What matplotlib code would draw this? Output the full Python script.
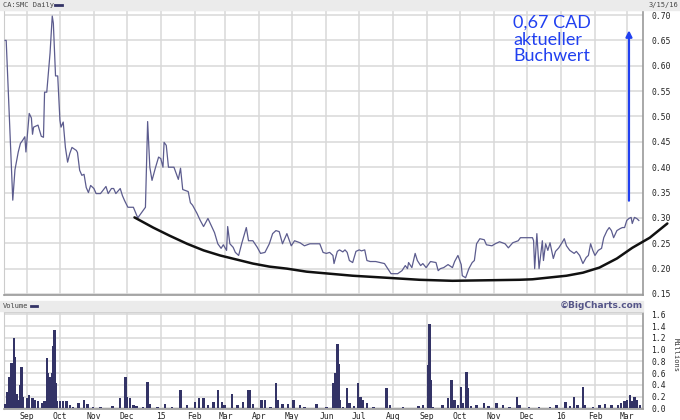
import pandas as pd
import matplotlib
matplotlib.use("Agg")
import matplotlib.pyplot as plt
import matplotlib.dates as mdates
from matplotlib.patches import Rectangle
from matplotlib.lines import Line2D

# daily close, CA:SMC
price_dates = [
    "2014-08-12", "2014-08-13", "2014-08-18", "2014-08-19", "2014-08-21", "2014-08-24", "2014-08-26",
    "2014-08-28", "2014-08-30", "2014-08-31", "2014-09-03", "2014-09-05", "2014-09-06", "2014-09-07",
    "2014-09-11", "2014-09-14", "2014-09-16", "2014-09-17", "2014-09-19", "2014-09-22", "2014-09-24",
    "2014-09-25", "2014-09-27", "2014-09-29", "2014-10-01", "2014-10-02", "2014-10-04", "2014-10-06",
    "2014-10-08", "2014-10-10", "2014-10-12", "2014-10-16", "2014-10-17", "2014-10-19", "2014-10-21",
    "2014-10-23", "2014-10-25", "2014-10-27", "2014-10-29", "2014-11-01", "2014-11-03", "2014-11-07",
    "2014-11-12", "2014-11-14", "2014-11-17", "2014-11-19", "2014-11-21", "2014-11-25", "2014-11-27",
    "2014-11-29", "2014-12-02", "2014-12-07", "2014-12-11", "2014-12-14", "2014-12-18", "2014-12-20",
    "2014-12-22", "2014-12-24", "2014-12-27", "2014-12-30", "2015-01-01", "2015-01-03", "2015-01-04",
    "2015-01-06", "2015-01-08", "2015-01-13", "2015-01-17", "2015-01-19", "2015-01-21", "2015-01-26",
    "2015-01-28", "2015-01-30", "2015-02-03", "2015-02-06", "2015-02-09", "2015-02-13", "2015-02-16",
    "2015-02-19", "2015-02-22", "2015-02-25", "2015-02-27", "2015-03-02", "2015-03-03", "2015-03-05",
    "2015-03-08", "2015-03-10", "2015-03-13", "2015-03-16", "2015-03-20", "2015-03-22", "2015-03-26",
    "2015-03-30", "2015-04-02", "2015-04-06", "2015-04-10", "2015-04-13", "2015-04-16", "2015-04-19",
    "2015-04-22", "2015-04-26", "2015-04-30", "2015-05-03", "2015-05-08", "2015-05-12", "2015-05-17",
    "2015-05-24", "2015-05-26", "2015-05-29", "2015-06-01", "2015-06-04", "2015-06-07", "2015-06-08",
    "2015-06-11", "2015-06-13", "2015-06-16", "2015-06-18", "2015-06-20", "2015-06-22", "2015-06-25",
    "2015-06-28", "2015-07-01", "2015-07-03", "2015-07-06", "2015-07-08", "2015-07-11", "2015-07-16",
    "2015-07-20", "2015-07-24", "2015-07-27", "2015-07-30", "2015-08-05", "2015-08-09", "2015-08-12",
    "2015-08-14", "2015-08-15", "2015-08-18", "2015-08-21", "2015-08-23", "2015-08-26", "2015-08-28",
    "2015-08-31", "2015-09-04", "2015-09-09", "2015-09-11", "2015-09-13", "2015-09-16", "2015-09-20",
    "2015-09-24", "2015-09-26", "2015-09-29", "2015-10-02", "2015-10-03", "2015-10-06", "2015-10-09",
    "2015-10-12", "2015-10-14", "2015-10-16", "2015-10-19", "2015-10-23", "2015-10-25", "2015-10-30",
    "2015-11-02", "2015-11-06", "2015-11-11", "2015-11-14", "2015-11-18", "2015-11-23", "2015-11-25",
    "2015-12-06", "2015-12-07", "2015-12-08", "2015-12-10", "2015-12-12", "2015-12-15", "2015-12-16",
    "2015-12-18", "2015-12-20", "2015-12-22", "2015-12-25", "2015-12-27", "2015-12-30", "2016-01-03",
    "2016-01-04", "2016-01-06", "2016-01-09", "2016-01-13", "2016-01-15", "2016-01-18", "2016-01-21",
    "2016-01-24", "2016-01-26", "2016-01-28", "2016-01-30", "2016-02-01", "2016-02-04", "2016-02-07",
    "2016-02-09", "2016-02-12", "2016-02-14", "2016-02-16", "2016-02-18", "2016-02-21", "2016-02-24",
    "2016-02-26", "2016-02-28", "2016-03-01", "2016-03-03", "2016-03-05", "2016-03-06", "2016-03-08",
    "2016-03-10", "2016-03-12",
]
price_vals = [
    0.65, 0.65, 0.39, 0.335, 0.395, 0.43, 0.447,
    0.453, 0.46, 0.43, 0.506, 0.497, 0.465, 0.479,
    0.483, 0.461, 0.459, 0.548, 0.548, 0.625, 0.698,
    0.684, 0.58, 0.58, 0.493, 0.479, 0.489, 0.439,
    0.41, 0.427, 0.439, 0.433, 0.429, 0.394, 0.384,
    0.386, 0.36, 0.35, 0.364, 0.358, 0.348, 0.348,
    0.362, 0.348, 0.358, 0.358, 0.348, 0.358, 0.344,
    0.334, 0.321, 0.321, 0.30, 0.309, 0.321, 0.49,
    0.40, 0.374, 0.398, 0.42, 0.417, 0.40, 0.449,
    0.443, 0.40, 0.40, 0.376, 0.398, 0.356, 0.352,
    0.33, 0.325, 0.309, 0.295, 0.283, 0.299, 0.285,
    0.271, 0.249, 0.24, 0.247, 0.236, 0.283, 0.249,
    0.242, 0.232, 0.226, 0.251, 0.281, 0.255, 0.255,
    0.242, 0.23, 0.232, 0.249, 0.269, 0.275, 0.273,
    0.249, 0.269, 0.245, 0.255, 0.251, 0.245, 0.249,
    0.249, 0.249, 0.232, 0.23, 0.232, 0.226, 0.21,
    0.234, 0.237, 0.233, 0.237, 0.232, 0.216, 0.212,
    0.234, 0.237, 0.235, 0.237, 0.216, 0.214, 0.214,
    0.212, 0.21, 0.20, 0.19, 0.19, 0.196, 0.206,
    0.20, 0.212, 0.202, 0.23, 0.216, 0.206, 0.21,
    0.202, 0.214, 0.212, 0.196, 0.20, 0.202, 0.208,
    0.202, 0.214, 0.226, 0.208, 0.186, 0.182, 0.20,
    0.212, 0.216, 0.249, 0.259, 0.257, 0.247, 0.245,
    0.249, 0.253, 0.249, 0.241, 0.251, 0.255, 0.261,
    0.261, 0.255, 0.20, 0.269, 0.20, 0.255, 0.216,
    0.249, 0.236, 0.251, 0.22, 0.234, 0.241, 0.255,
    0.259, 0.245, 0.236, 0.23, 0.234, 0.226, 0.21,
    0.222, 0.226, 0.249, 0.236, 0.226, 0.236, 0.24,
    0.261, 0.275, 0.281, 0.275, 0.261, 0.275, 0.279,
    0.281, 0.281, 0.295, 0.299, 0.301, 0.289, 0.301,
    0.299, 0.295,
]

# volume in millions
vol_dates = [
    "2014-08-12", "2014-08-14", "2014-08-16", "2014-08-17", "2014-08-18", "2014-08-19", "2014-08-20",
    "2014-08-21", "2014-08-22", "2014-08-23", "2014-08-24", "2014-08-26", "2014-08-27", "2014-08-28",
    "2014-09-01", "2014-09-03", "2014-09-06", "2014-09-08", "2014-09-11", "2014-09-15", "2014-09-17",
    "2014-09-19", "2014-09-20", "2014-09-22", "2014-09-24", "2014-09-25", "2014-09-26", "2014-09-27",
    "2014-09-28", "2014-10-01", "2014-10-04", "2014-10-07", "2014-10-10", "2014-10-13", "2014-10-18",
    "2014-10-23", "2014-10-26", "2014-10-31", "2014-11-07", "2014-11-18", "2014-11-25", "2014-11-30",
    "2014-12-01", "2014-12-04", "2014-12-07", "2014-12-10", "2014-12-16", "2014-12-20", "2014-12-22",
    "2014-12-29", "2015-01-05", "2015-01-11", "2015-01-19", "2015-01-25", "2015-02-01", "2015-02-05",
    "2015-02-09", "2015-02-13", "2015-02-18", "2015-02-22", "2015-02-26", "2015-02-28", "2015-03-07",
    "2015-03-12", "2015-03-17", "2015-03-22", "2015-03-23", "2015-03-26", "2015-04-03", "2015-04-06",
    "2015-04-11", "2015-04-16", "2015-04-18", "2015-04-22", "2015-04-27", "2015-05-02", "2015-05-08",
    "2015-05-12", "2015-05-23", "2015-06-01", "2015-06-07", "2015-06-09", "2015-06-11", "2015-06-12",
    "2015-06-13", "2015-06-16", "2015-06-20", "2015-06-22", "2015-06-26", "2015-06-30", "2015-07-02",
    "2015-07-04", "2015-07-08", "2015-07-14", "2015-07-26", "2015-07-29", "2015-08-10", "2015-08-24",
    "2015-08-28", "2015-09-02", "2015-09-03", "2015-09-04", "2015-09-06", "2015-09-15", "2015-09-20",
    "2015-09-23", "2015-09-26", "2015-09-29", "2015-10-02", "2015-10-03", "2015-10-07", "2015-10-08",
    "2015-10-11", "2015-10-16", "2015-10-23", "2015-10-27", "2015-11-03", "2015-11-09", "2015-11-15",
    "2015-11-22", "2015-11-24", "2015-12-03", "2015-12-12", "2015-12-22", "2015-12-28", "2016-01-05",
    "2016-01-09", "2016-01-13", "2016-01-16", "2016-01-21", "2016-01-23", "2016-01-30", "2016-02-05",
    "2016-02-10", "2016-02-16", "2016-02-22", "2016-02-25", "2016-02-28", "2016-03-01", "2016-03-04",
    "2016-03-06", "2016-03-08", "2016-03-10", "2016-03-13",
]
vol_vals = [
    0.08, 0.28, 0.54, 0.19, 0.78, 0.17, 1.19,
    0.87, 0.20, 0.25, 0.14, 0.39, 0.70, 0.20,
    0.17, 0.22, 0.17, 0.14, 0.12, 0.10, 0.12,
    0.85, 0.60, 0.54, 0.60, 1.07, 1.33, 0.43,
    0.12, 0.13, 0.12, 0.13, 0.06, 0.03, 0.10,
    0.14, 0.08, 0.03, 0.03, 0.04, 0.17, 0.53,
    0.20, 0.17, 0.06, 0.04, 0.03, 0.45, 0.08,
    0.02, 0.08, 0.03, 0.31, 0.06, 0.11, 0.18,
    0.17, 0.06, 0.11, 0.31, 0.11, 0.06, 0.25,
    0.06, 0.11, 0.31, 0.32, 0.08, 0.15, 0.14,
    0.03, 0.43, 0.14, 0.08, 0.08, 0.15, 0.05,
    0.03, 0.07, 0.02, 0.43, 0.60, 1.10, 0.76,
    0.15, 0.03, 0.35, 0.10, 0.04, 0.43, 0.20,
    0.15, 0.10, 0.03, 0.35, 0.06, 0.03, 0.04,
    0.06, 0.74, 1.44, 0.48, 0.03, 0.06, 0.17,
    0.48, 0.14, 0.05, 0.37, 0.10, 0.62, 0.35,
    0.04, 0.05, 0.10, 0.04, 0.10, 0.06, 0.03,
    0.20, 0.05, 0.02, 0.03, 0.03, 0.05, 0.11,
    0.04, 0.20, 0.05, 0.37, 0.06, 0.03, 0.05,
    0.08, 0.05, 0.06, 0.10, 0.12, 0.15, 0.23,
    0.12, 0.20, 0.15, 0.06,
]

# hand-drawn support curve
curve_dates = ["2014-12-08", "2014-12-25", "2015-01-09", "2015-01-25", "2015-02-09", "2015-02-24",
               "2015-03-11", "2015-03-26", "2015-04-10", "2015-04-26", "2015-05-14", "2015-06-04",
               "2015-06-25", "2015-07-26", "2015-08-25", "2015-09-24", "2015-11-24", "2015-12-06",
               "2016-01-06", "2016-01-21", "2016-02-05", "2016-02-21", "2016-03-06", "2016-03-22",
               "2016-04-07"]
curve_vals = [0.301, 0.281, 0.265, 0.249, 0.236, 0.226,
              0.218, 0.21, 0.204, 0.20, 0.194, 0.19,
              0.186, 0.182, 0.178, 0.176, 0.178, 0.179,
              0.186, 0.192, 0.202, 0.22, 0.241, 0.261,
              0.289]

month_ticks = ["2014-09-01", "2014-10-01", "2014-11-01", "2014-12-01", "2015-01-01", "2015-02-01",
               "2015-03-01", "2015-04-01", "2015-05-01", "2015-06-01", "2015-07-01", "2015-08-01",
               "2015-09-01", "2015-10-01", "2015-11-01", "2015-12-01", "2016-01-01", "2016-02-01",
               "2016-03-01"]
month_labels = ["Sep", "Oct", "Nov", "Dec", "15", "Feb", "Mar", "Apr", "May", "Jun", "Jul", "Aug",
                "Sep", "Oct", "Nov", "Dec", "16", "Feb", "Mar"]
price_ticks = [0.15, 0.20, 0.25, 0.30, 0.35, 0.40, 0.45, 0.50, 0.55, 0.60, 0.65, 0.70]
vol_ticks = [0.0, 0.2, 0.4, 0.6, 0.8, 1.0, 1.2, 1.4, 1.6]

line_col = "#5c5c8e"
navy = "#333366"
grid_col = "#d9d9d9"
frame_col = "#9a9a9a"
mono = "DejaVu Sans Mono"

W, H = 680, 420
fig = plt.figure(figsize=(W / 100, H / 100), dpi=100)

# header bars
fig.patches.append(Rectangle((0, 1 - 10 / H), 1, 10 / H, transform=fig.transFigure,
                             color="#ebebeb", zorder=0))
fig.patches.append(Rectangle((0, 1 - 311 / H), 643 / W, 10 / H, transform=fig.transFigure,
                             color="#ebebeb", zorder=0))

ax = fig.add_axes([4 / W, 1 - 295 / H, 639 / W, 285 / H])
vax = fig.add_axes([4 / W, 1 - 409 / H, 639 / W, 97 / H], sharex=ax)

pd_price = pd.to_datetime(price_dates)
pd_vol = pd.to_datetime(vol_dates)
pd_curve = pd.to_datetime(curve_dates)
ticks = pd.to_datetime(month_ticks)

x0 = mdates.date2num(pd.Timestamp("2014-08-11"))
x1 = mdates.date2num(pd.Timestamp("2016-03-15")) + 0.8

for a in (ax, vax):
    a.set_xlim(x0, x1)
    a.set_xticks(mdates.date2num(ticks))
    a.grid(True, color=grid_col, lw=1.1, zorder=0)
    a.set_axisbelow(True)
    a.yaxis.tick_right()
    a.tick_params(length=0, labelsize=5.8, colors="#222222", pad=6)
    for s in ("left", "top"):
        a.spines[s].set_color("#cccccc")
    for s in ("right", "bottom"):
        a.spines[s].set_color(frame_col)
        a.spines[s].set_linewidth(1.2)

ax.plot(pd_price, price_vals, color=line_col, lw=0.9, zorder=3)
ax.set_ylim(0.148, 0.71)
ax.set_yticks(price_ticks)
ax.set_yticklabels([f"{v:.2f}" for v in price_ticks], family=mono)
ax.tick_params(axis="x", labelbottom=False)

ax.plot(pd_curve, curve_vals, color="#111111", lw=1.8, clip_on=False, zorder=4,
        solid_capstyle="round")

# annotation
ax.annotate("", xy=(pd.Timestamp("2016-03-03"), 0.670), xytext=(pd.Timestamp("2016-03-03"), 0.334),
            arrowprops=dict(arrowstyle="-|>", color="#2140f0", lw=1.6, mutation_scale=9,
                            shrinkA=0, shrinkB=0), zorder=5)
fig.text(513 / W, 1 - 15 / H, "0,67 CAD\naktueller\nBuchwert", color="#2140f0", fontsize=13,
         family="Lato", va="top", ha="left", linespacing=1.05)

vax.bar(pd_vol, vol_vals, width=2.2, color=navy, zorder=3)
vax.set_ylim(-0.01, 1.64)
vax.set_yticks(vol_ticks)
vax.set_yticklabels([f"{v:.1f}" for v in vol_ticks], family=mono)
vax.set_xticklabels(month_labels, family=mono)
vax.tick_params(axis="x", pad=2)

# header texts
fig.text(3 / W, 1 - 5 / H, "CA:SMC Daily", fontsize=5, family=mono, color="#444444", va="center")
fig.lines.append(Line2D([55 / W, 62 / W], [1 - 5 / H, 1 - 5 / H], transform=fig.transFigure,
                        color=navy, lw=2))
fig.text(678 / W, 1 - 5 / H, "3/15/16", fontsize=5, family=mono, color="#444444", va="center",
         ha="right")
fig.text(3 / W, 1 - 306 / H, "Volume", fontsize=5, family=mono, color="#444444", va="center")
fig.lines.append(Line2D([31 / W, 37 / W], [1 - 306 / H, 1 - 306 / H], transform=fig.transFigure,
                        color=navy, lw=2))
fig.text(643 / W, 1 - 306 / H, "\u00a9BigCharts.com", fontsize=6.5, family="DejaVu Sans",
         weight="bold", color="#555588", va="center", ha="right")
fig.text(676 / W, 1 - 355 / H, "Millions", fontsize=5, family=mono, color="#333333", va="center",
         ha="center", rotation=270)

fig.savefig("out.png", dpi=100)
